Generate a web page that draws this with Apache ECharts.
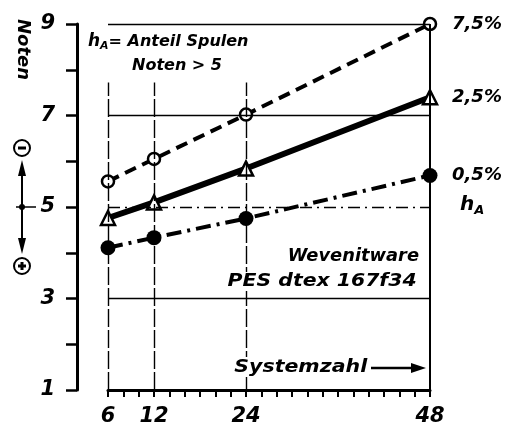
<!DOCTYPE html>
<html><head><meta charset="utf-8">
<script src="https://cdn.jsdelivr.net/npm/echarts@6/dist/echarts.min.js"></script>
<style>html,body{margin:0;padding:0;background:#fff}#c{width:510px;height:431px}</style>
</head><body><div id="c"></div>
<script>
// ---- data ----
const systemzahl = [6, 12, 24, 48];
const noten75 = [5.56, 6.05, 7.02, 9.0];
const noten25 = [4.76, 5.10, 5.84, 7.40];
const noten05 = [4.11, 4.33, 4.75, 5.69];
const seriesNames = ['7,5%', '2,5%', '0,5%'];
const xTickLabels = [6, 12, 24, 48];
const yTickLabels = [1, 3, 5, 7, 9];
const hGridValues = [3, 5, 7, 9];
const vGridValues = [6, 12, 24, 48];

const F = 'DejaVu Sans';
const pairs = ys => systemzahl.map((x, i) => [x, ys[i]]);
const txt = (extra) => Object.assign({fontFamily: F, fontStyle: 'italic', fontWeight: 'bold', fill: '#000'}, extra);

const gridLines = [];
hGridValues.forEach(v => {
  let ls = {color: '#000', width: 1.3, type: 'solid'};
  if (v === 5) ls = {color: '#000', width: 1.3, type: [12, 5, 2, 5]};
  gridLines.push([{coord: [6, v], lineStyle: ls}, {coord: [48, v]}]);
});
vGridValues.forEach(v => {
  let ls = {color: '#000', width: 1.4, type: [18, 3]};
  let top = 7.72;
  if (v === 48) { ls = {color: '#000', width: 2, type: 'solid'}; top = 9; }
  gridLines.push([{coord: [v, 1], lineStyle: ls}, {coord: [v, top]}]);
});

const endLabel = {show: true, formatter: p => p.seriesName, distance: 22,
  fontFamily: F, fontStyle: 'italic', fontWeight: 'bold', fontSize: 18, color: '#000'};

const chart = echarts.init(document.getElementById('c'));
chart.setOption({
  animation: false,
  backgroundColor: '#fff',
  grid: {left: 108, right: 80, top: 24, bottom: 41},
  xAxis: {
    type: 'value', min: 6, max: 48, interval: 2,
    axisLine: {lineStyle: {color: '#000', width: 3}},
    axisTick: {length: 7, lineStyle: {color: '#000', width: 2}},
    axisLabel: {formatter: v => xTickLabels.includes(v) ? String(v) : '', margin: 16,
      fontFamily: F, fontStyle: 'italic', fontWeight: 'bold', fontSize: 21, color: '#000'},
    splitLine: {show: false}
  },
  yAxis: {
    type: 'value', min: 1, max: 9, interval: 1, offset: 31,
    axisLine: {show: true, lineStyle: {color: '#000', width: 3}},
    axisTick: {show: true, length: 11, lineStyle: {color: '#000', width: 2.5}},
    axisLabel: {formatter: v => yTickLabels.includes(v) ? String(v) : '', margin: 22,
      fontFamily: F, fontStyle: 'italic', fontWeight: 'bold', fontSize: 21, color: '#000'},
    splitLine: {show: false}
  },
  series: [
    {type: 'line', data: [], z: 1, silent: true,
     markLine: {silent: true, symbol: 'none', label: {show: false}, data: gridLines}},
    {name: seriesNames[0], type: 'line', data: pairs(noten75), z: 3,
     symbol: 'circle', symbolSize: 12,
     itemStyle: {color: '#fff', borderColor: '#000', borderWidth: 2.5},
     lineStyle: {color: '#000', width: 4, type: [12, 7]}, endLabel},
    {name: seriesNames[1], type: 'line', data: pairs(noten25), z: 3,
     symbol: 'triangle', symbolSize: 14,
     itemStyle: {color: '#fff', borderColor: '#000', borderWidth: 2.5},
     lineStyle: {color: '#000', width: 6}, endLabel},
    {name: seriesNames[2], type: 'line', data: pairs(noten05), z: 3,
     symbol: 'circle', symbolSize: 15,
     itemStyle: {color: '#000'},
     lineStyle: {color: '#000', width: 4, type: [15, 6, 3, 6]}, endLabel}
  ],
  graphic: [
    {type: 'text', left: 88, top: 33, style: txt({
      text: '{h|h}{a|A}{t|= Anteil Spulen}',
      rich: {h: {fontFamily: F, fontStyle: 'italic', fontWeight: 'bold', fontSize: 17},
             a: {fontFamily: F, fontStyle: 'italic', fontWeight: 'bold', fontSize: 11, padding: [9, 0, 0, 0]},
             t: {fontFamily: F, fontStyle: 'italic', fontWeight: 'bold', fontSize: 16}}})},
    {type: 'text', left: 132, top: 58, style: txt({text: 'Noten > 5', fontSize: 16})},
    {type: 'text', x: 419, y: 248, scaleX: 1.05, style: txt({text: 'Wevenitware', fontSize: 17, textAlign: 'right'})},
    {type: 'text', x: 419, y: 272, z: 10, scaleX: 1.2, style: txt({text: 'PES dtex 167f34', fontSize: 17, textAlign: 'right', backgroundColor: '#fff', padding: [1, 2, 1, 2]})},
    {type: 'text', x: 232, y: 357, z: 10, scaleX: 1.14, style: txt({text: 'Systemzahl', fontSize: 18, backgroundColor: '#fff', padding: [1, 2, 1, 2]})},
    {type: 'line', shape: {x1: 371, y1: 368, x2: 414, y2: 368}, style: {stroke: '#000', lineWidth: 2.5}},
    {type: 'polygon', shape: {points: [[426, 368], [411, 363], [411, 373]]}, style: {fill: '#000'}},
    {type: 'text', left: 460, top: 195, style: txt({
      text: '{h|h}{a|A}', rich: {h: {fontFamily: F, fontStyle: 'italic', fontWeight: 'bold', fontSize: 20},
        a: {fontFamily: F, fontStyle: 'italic', fontWeight: 'bold', fontSize: 13, padding: [11, 0, 0, 0]}}})},
    {type: 'text', x: 32, y: 19, rotation: -Math.PI / 2, style: txt({text: 'Noten', fontSize: 18})},
    {type: 'circle', shape: {cx: 22, cy: 148, r: 8}, style: {fill: '#fff', stroke: '#000', lineWidth: 2}},
    {type: 'line', shape: {x1: 18, y1: 148, x2: 26, y2: 148}, style: {stroke: '#000', lineWidth: 3}},
    {type: 'circle', shape: {cx: 22, cy: 266, r: 8}, style: {fill: '#fff', stroke: '#000', lineWidth: 2}},
    {type: 'line', shape: {x1: 18, y1: 266, x2: 26, y2: 266}, style: {stroke: '#000', lineWidth: 3}},
    {type: 'line', shape: {x1: 22, y1: 262, x2: 22, y2: 270}, style: {stroke: '#000', lineWidth: 3}},
    {type: 'line', shape: {x1: 22, y1: 170, x2: 22, y2: 245}, style: {stroke: '#000', lineWidth: 2}},
    {type: 'polygon', shape: {points: [[22, 160], [18, 176], [26, 176]]}, style: {fill: '#000'}},
    {type: 'polygon', shape: {points: [[22, 254], [18, 238], [26, 238]]}, style: {fill: '#000'}},
    {type: 'line', shape: {x1: 16, y1: 207, x2: 36, y2: 207}, style: {stroke: '#000', lineWidth: 1.5}},
    {type: 'circle', shape: {cx: 22, cy: 207, r: 3}, style: {fill: '#000'}}
  ]
});
</script></body></html>
